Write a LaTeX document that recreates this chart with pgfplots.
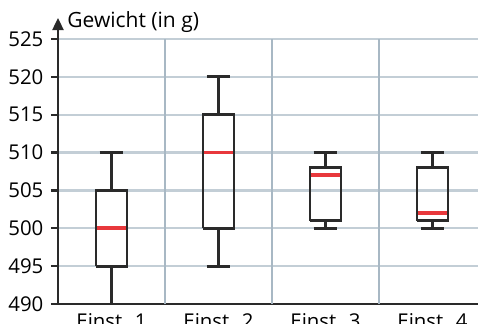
\documentclass[border=0pt]{standalone}
\usepackage{fontspec}
\setmainfont{Open Sans}
\usepackage{pgfplots}
\pgfplotsset{compat=1.18}
\usetikzlibrary{arrows.meta}
\definecolor{gridh}{HTML}{C3CED6}
\definecolor{gridv}{HTML}{A8B8C4}
\definecolor{medred}{HTML}{E8383C}
\definecolor{boxc}{HTML}{2A2A2A}
\begin{document}
\begin{tikzpicture}
\begin{axis}[
  scale only axis,
  width=210pt, height=132.5pt,
  xmin=0.5, xmax=4.425,
  ymin=490, ymax=525,
  axis lines=left,
  axis line style={line width=1.2pt, boxc},
  x axis line style={-},
  y axis line style={-{Triangle[length=6pt,width=5.5pt]}, shorten >=-10.5pt},
  ytick={490,495,...,525},
  xtick={1,2,3,4},
  xticklabels={Einst. 1,Einst. 2,Einst. 3,Einst. 4},
  x tick style={draw=none},
  y tick style={line width=1.2pt, boxc},
  tick align=outside,
  major tick length=3.5pt,
  ymajorgrids,
  major grid style={gridh, line width=1.1pt},
  tick label style={font=\fontsize{10.2}{12}\selectfont},
  /pgf/number format/assume math mode=true,
  yticklabel style={xshift=-0.3pt},
  xticklabel style={yshift=2.5pt},
  unbounded coords=jump,
  clip=false,
]
% vertical separators
\addplot[gridv, line width=1.1pt] coordinates {(1.5,490) (1.5,525) (1.5,nan) (2.5,490) (2.5,525) (2.5,nan) (3.5,490) (3.5,525)};
% Einst. 1
\addplot[boxc, line width=1.4pt] coordinates {(1,490) (1,495) (1,nan) (1,505) (1,510) (1,nan) (0.89,490) (1.11,490) (1,nan) (0.89,510) (1.11,510) (1,nan) (0.855,495) (1.145,495) (1.145,505) (0.855,505) (0.855,495)};
\addplot[medred, line width=1.8pt] coordinates {(0.862,500) (1.138,500)};
% Einst. 2
\addplot[boxc, line width=1.4pt] coordinates {(2,495) (2,500) (2,nan) (2,515) (2,520) (2,nan) (1.89,495) (2.11,495) (2,nan) (1.89,520) (2.11,520) (2,nan) (1.855,500) (2.145,500) (2.145,515) (1.855,515) (1.855,500)};
\addplot[medred, line width=1.8pt] coordinates {(1.862,510) (2.138,510)};
% Einst. 3
\addplot[boxc, line width=1.4pt] coordinates {(3,500) (3,501) (3,nan) (3,508) (3,510) (3,nan) (2.89,500) (3.11,500) (3,nan) (2.89,510) (3.11,510) (3,nan) (2.855,501) (3.145,501) (3.145,508) (2.855,508) (2.855,501)};
\addplot[medred, line width=1.8pt] coordinates {(2.862,507) (3.138,507)};
% Einst. 4
\addplot[boxc, line width=1.4pt] coordinates {(4,500) (4,501) (4,nan) (4,508) (4,510) (4,nan) (3.89,500) (4.11,500) (4,nan) (3.89,510) (4.11,510) (4,nan) (3.855,501) (4.145,501) (4.145,508) (3.855,508) (3.855,501)};
\addplot[medred, line width=1.8pt] coordinates {(3.862,502) (4.138,502)};
\coordinate (sw) at (rel axis cs:0,0);
\coordinate (ne) at (rel axis cs:1,1);
\end{axis}
\node[anchor=base west, font=\fontsize{10.5}{12.5}\selectfont, inner sep=0pt] at ([xshift=4.5pt, yshift=6pt]sw |- ne) {Gewicht (in g)};
\pgfresetboundingbox
\path[use as bounding box] ([xshift=-29pt, yshift=-9.5pt]sw) rectangle ([yshift=19.5pt]ne);
\end{tikzpicture}
\end{document}
